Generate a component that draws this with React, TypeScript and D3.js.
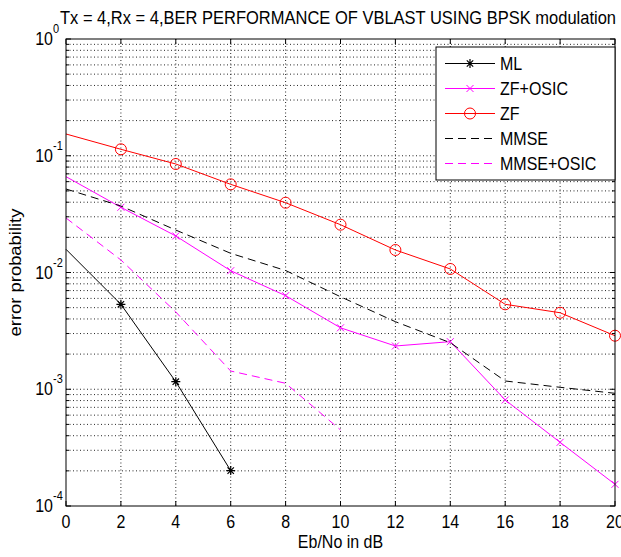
import React from "react";
import * as d3 from "d3";

const snr = [0, 2, 4, 6, 8, 10, 12, 14, 16, 18, 20];
const berML = [0.0158, 0.00534, 0.00116, 0.000201];
const berZFOSIC = [0.0662, 0.0362, 0.02055, 0.01036, 0.00633, 0.00336, 0.002347, 0.002556, 0.000809, 0.000351, 0.0001534];
const berZF = [0.1536, 0.1136, 0.085, 0.0569, 0.0396, 0.02567, 0.01559, 0.01072, 0.00534, 0.00452, 0.002875];
const berMMSE = [0.0519, 0.0371, 0.0231, 0.0146, 0.0104, 0.0062, 0.00379, 0.002504, 0.001177, 0.001039, 0.000923];
const berMMSEOSIC = [0.0293, 0.0128, 0.00459, 0.001433, 0.001125, 0.000448];
const xTicks = [0, 2, 4, 6, 8, 10, 12, 14, 16, 18, 20];
const yDecades = [0, -1, -2, -3, -4];
const legendLabels = ["ML", "ZF+OSIC", "ZF", "MMSE", "MMSE+OSIC"];
const titleText = "Tx = 4,Rx = 4,BER PERFORMANCE OF VBLAST USING BPSK modulation";

const L = 66, R = 615, T = 39, B = 506;
const FONT = "'Liberation Sans', Arial, sans-serif";
const SY = 1.15;

function Txt(props: { x: number; y: number; size: number; anchor?: string; rot?: boolean; children: any; len?: number }) {
  const { x, y, size, anchor, rot, children, len } = props;
  const tr = `translate(${x},${y})${rot ? " rotate(-90)" : ""} scale(${rot ? SY : 1},${rot ? 1 : SY})`;
  return (
    <text transform={tr} fontSize={size} textAnchor={anchor || "start"} fill="#000"
      textLength={len} lengthAdjust={len ? "spacingAndGlyphs" : undefined}>
      {children}
    </text>
  );
}

export default function App() {
  const x = d3.scaleLinear().domain([0, 20]).range([L, R]);
  const y = d3.scaleLog().domain([1e-4, 1]).range([B, T]);
  const line = d3.line<[number, number]>().x(d => x(d[0])).y(d => y(d[1]));
  const pts = (arr: number[]) => arr.map((v, i) => [snr[i], v] as [number, number]);

  const minor: number[] = [];
  for (let e = -4; e < 0; e++) for (let m = 2; m <= 9; m++) minor.push(m * Math.pow(10, e));

  const series = [
    { data: berML, color: "#000", dash: "", marker: "star" },
    { data: berZFOSIC, color: "#ff00ff", dash: "", marker: "x" },
    { data: berZF, color: "#ff0000", dash: "", marker: "o" },
    { data: berMMSE, color: "#000", dash: "8,5", marker: "" },
    { data: berMMSEOSIC, color: "#ff00ff", dash: "8,5", marker: "" },
  ];

  const marker = (type: string, cx: number, cy: number, color: string, key: any) => {
    if (type === "o") return <circle key={key} cx={cx} cy={cy} r={5.5} fill="none" stroke={color} strokeWidth={1} />;
    if (type === "x") {
      const s = 3.5;
      return <path key={key} d={`M${cx - s},${cy - s}L${cx + s},${cy + s}M${cx - s},${cy + s}L${cx + s},${cy - s}`} stroke={color} strokeWidth={1} />;
    }
    if (type === "star") {
      const s = 4.5, d = 3.2;
      return <path key={key} d={`M${cx},${cy - s}L${cx},${cy + s}M${cx - s},${cy}L${cx + s},${cy}M${cx - d},${cy - d}L${cx + d},${cy + d}M${cx - d},${cy + d}L${cx + d},${cy - d}`} stroke={color} strokeWidth={1.2} />;
    }
    return null;
  };

  const lx0 = 445, lx1 = 495, ly0 = 63.5, ldy = 25;

  return (
    <svg width={621} height={557} style={{ position: "absolute", left: 0, top: 0, background: "#fff" }} fontFamily={FONT}>
      <rect x={0} y={0} width={621} height={557} fill="#fff" />
      {/* grid */}
      <g stroke="#000" strokeWidth={1} strokeDasharray="1,2.5" opacity={0.85}>
        {xTicks.slice(1, -1).map(t => <line key={"gx" + t} x1={x(t)} x2={x(t)} y1={T} y2={B} />)}
        {yDecades.slice(1, -1).map(e => <line key={"gy" + e} x1={L} x2={R} y1={y(Math.pow(10, e))} y2={y(Math.pow(10, e))} />)}
        {minor.map((m, i) => <line key={"gm" + i} x1={L} x2={R} y1={y(m)} y2={y(m)} />)}
      </g>
      {/* ticks */}
      <g stroke="#000" strokeWidth={1}>
        {xTicks.map(t => (
          <g key={"tx" + t}>
            <line x1={x(t)} x2={x(t)} y1={B} y2={B - 5} />
            <line x1={x(t)} x2={x(t)} y1={T} y2={T + 5} />
          </g>
        ))}
        {yDecades.map(e => (
          <g key={"ty" + e}>
            <line x1={L} x2={L + 5} y1={y(Math.pow(10, e))} y2={y(Math.pow(10, e))} />
            <line x1={R} x2={R - 5} y1={y(Math.pow(10, e))} y2={y(Math.pow(10, e))} />
          </g>
        ))}
        {minor.map((m, i) => (
          <g key={"tm" + i}>
            <line x1={L} x2={L + 3} y1={y(m)} y2={y(m)} />
            <line x1={R} x2={R - 3} y1={y(m)} y2={y(m)} />
          </g>
        ))}
      </g>
      {/* series */}
      {series.map((s, i) => (
        <g key={"s" + i}>
          <path d={line(pts(s.data)) || ""} fill="none" stroke={s.color} strokeWidth={1} strokeDasharray={s.dash || undefined} />
          {s.marker && pts(s.data).slice(1).map((p, j) => marker(s.marker, x(p[0]), y(p[1]), s.color, j))}
        </g>
      ))}
      {/* frame */}
      <rect x={L} y={T} width={R - L} height={B - T} fill="none" stroke="#000" strokeWidth={1} />
      {/* tick labels */}
      {xTicks.map(t => (
        <Txt key={"lx" + t} x={x(t)} y={528} size={16} anchor="middle">{t}</Txt>
      ))}
      {yDecades.map(e => (
        <g key={"ly" + e}>
          <Txt x={53} y={y(Math.pow(10, e)) + 6} size={16} anchor="end">10</Txt>
          <Txt x={53} y={y(Math.pow(10, e)) - 6} size={11}>{e === 0 ? "0" : String(e)}</Txt>
        </g>
      ))}
      {/* labels */}
      <Txt x={(L + R) / 2} y={548} size={16} anchor="middle">Eb/No in dB</Txt>
      <Txt x={21} y={(T + B) / 2} size={16} anchor="middle" rot>error probability</Txt>
      <Txt x={60} y={24} size={16} len={556}>{titleText}</Txt>
      {/* legend */}
      <rect x={436} y={47} width={179} height={133} fill="#fff" stroke="#000" strokeWidth={1} />
      {series.map((s, i) => {
        const ly = ly0 + i * ldy;
        return (
          <g key={"lg" + i}>
            <line x1={lx0} x2={lx1} y1={ly} y2={ly} stroke={s.color} strokeWidth={1} strokeDasharray={s.dash || undefined} />
            {s.marker && marker(s.marker, (lx0 + lx1) / 2, ly, s.color, "m")}
            <Txt x={500} y={ly + 6} size={16}>{legendLabels[i]}</Txt>
          </g>
        );
      })}
    </svg>
  );
}
